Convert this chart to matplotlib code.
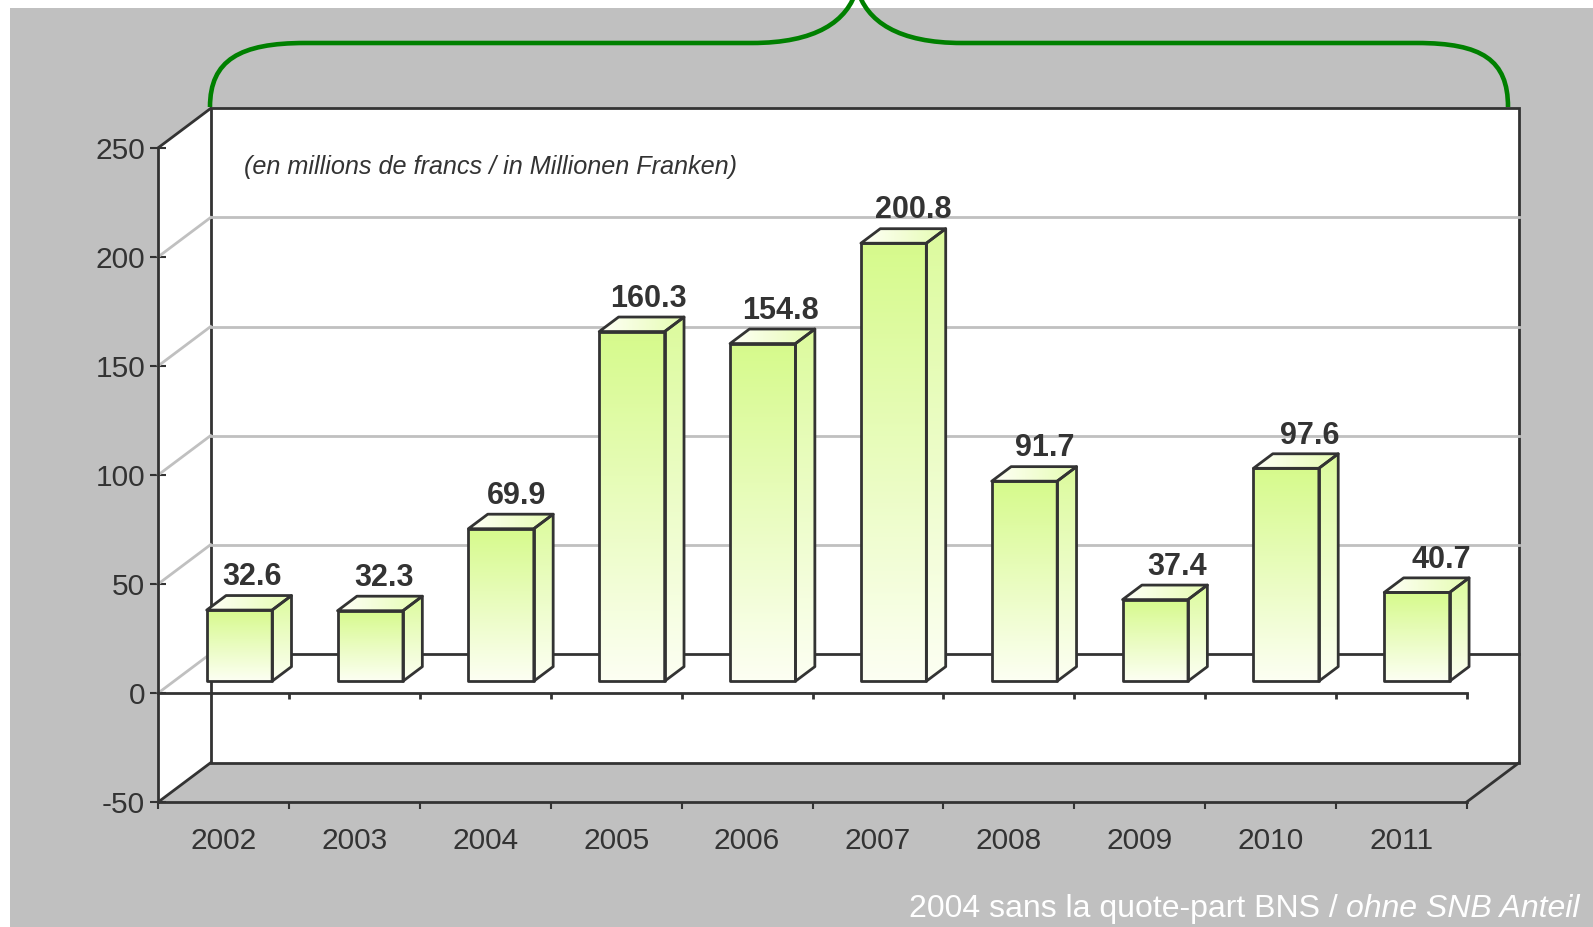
import numpy as np
import matplotlib
matplotlib.use('Agg')
import matplotlib.pyplot as plt
from matplotlib.patches import Polygon, Rectangle, PathPatch
from matplotlib.path import Path
from matplotlib.transforms import Affine2D

plt.rcParams['font.family'] = ['Liberation Sans', 'DejaVu Sans']

years = ['2002', '2003', '2004', '2005', '2006', '2007', '2008', '2009', '2010', '2011']
values = [32.6, 32.3, 69.9, 160.3, 154.8, 200.8, 91.7, 37.4, 97.6, 40.7]
yticks = [-50, 0, 50, 100, 150, 200, 250]
subtitle = '(en millions de francs / in Millionen Franken)'
note_plain = '2004 sans la quote-part BNS / '
note_italic = 'ohne SNB Anteil'

W, H = 1593, 927
DARK = '#333333'
GRID = '#c0c0c0'
BG = '#c0c0c0'

# oblique depth of the 3D box, in data units
DX, DY = 0.40, 18.0
D0, D1 = 0.30, 0.67   # bar front / back depth
BW = 0.5              # bar width

fig = plt.figure(figsize=(W / 100, H / 100), dpi=100)
fig.patch.set_facecolor('white')
px = Affine2D().scale(1 / W, -1 / H).translate(0, 1) + fig.transFigure

fig.patches.append(Rectangle((10, 8), W, H, transform=px, facecolor=BG, edgecolor='none', zorder=-5))

ax = fig.add_axes([158.3 / W, 1 - 802 / H, 1308.4 / W, 654.3 / H])
ax.set_xlim(0, 10)
ax.set_ylim(-50, 250)
ax.patch.set_visible(False)
for s in ['top', 'right']:
    ax.spines[s].set_visible(False)
for s in ['left', 'bottom']:
    ax.spines[s].set_color(DARK)
    ax.spines[s].set_linewidth(2)


def p(x, y, d):
    return (x + d * DX, y + d * DY)


n = len(values)
ymin, ymax = yticks[0], yticks[-1]

# walls
ax.add_patch(Polygon([p(0, ymin, 0), p(0, ymin, 1), p(0, ymax, 1), p(0, ymax, 0)],
                     closed=True, facecolor='white', edgecolor='none', zorder=1, clip_on=False))
ax.add_patch(Polygon([p(0, ymin, 1), p(n, ymin, 1), p(n, ymax, 1), p(0, ymax, 1)],
                     closed=True, facecolor='white', edgecolor=DARK, lw=2, zorder=1.5, clip_on=False))

# gridlines on side and back walls
for v in yticks[1:-1]:
    a, b = p(0, v, 0), p(0, v, 1)
    ax.plot([a[0], b[0]], [a[1], b[1]], color=GRID, lw=2, zorder=2, clip_on=False)
    if v != 0:
        c = p(n, v, 1)
        ax.plot([b[0], c[0]], [b[1], c[1]], color=GRID, lw=2, zorder=2, clip_on=False)
# box edges
for (x0, y0, d0), (x1, y1, d1) in [((0, ymax, 0), (0, ymax, 1)),
                                   ((0, ymin, 0), (0, ymin, 1)),
                                   ((n, ymin, 0), (n, ymin, 1)),
                                   ((0, 0, 1), (n, 0, 1))]:
    a, b = p(x0, y0, d0), p(x1, y1, d1)
    ax.plot([a[0], b[0]], [a[1], b[1]], color=DARK, lw=2, zorder=3, clip_on=False,
            solid_capstyle='projecting')

green = np.array([0.84, 0.98, 0.55])
white = np.array([0.99, 1.0, 0.95])


def grad_img(c_top, c_bot, vertical=True, nsteps=64):
    t = np.linspace(0, 1, nsteps)[:, None]
    arr = c_bot[None, :] * (1 - t) + c_top[None, :] * t
    if vertical:
        return arr[:, None, :]
    return arr[None, :, :]


def face(verts, img, z):
    poly = Polygon(verts, closed=True, facecolor='none', edgecolor=DARK, lw=2,
                   joinstyle='round', zorder=z + 0.1, clip_on=False)
    ax.add_patch(poly)
    xs = [v[0] for v in verts]
    ys = [v[1] for v in verts]
    im = ax.imshow(img, extent=[min(xs), max(xs), min(ys), max(ys)], origin='lower',
                   aspect='auto', interpolation='bilinear', zorder=z)
    im.set_clip_path(poly)
    im.set_clip_box(None)


for i, v in enumerate(values):
    xl, xr = i + 0.5 - BW / 2, i + 0.5 + BW / 2
    z = 4 + i * 0.01
    front = [p(xl, 0, D0), p(xr, 0, D0), p(xr, v, D0), p(xl, v, D0)]
    side = [p(xr, 0, D0), p(xr, 0, D1), p(xr, v, D1), p(xr, v, D0)]
    top = [p(xl, v, D0), p(xr, v, D0), p(xr, v, D1), p(xl, v, D1)]
    face(front, grad_img(green, white), z)
    face(side, grad_img(green * 0.85 + 0.15, white), z)
    face(top, grad_img(np.array([0.90, 0.99, 0.70]), np.array([1.0, 1.0, 0.97]), vertical=False), z)
    # labels drift right a little across the chart (Excel perspective)
    lx = i + 0.5 + DX * (D0 + 0.24 + 0.23 * i / (n - 1))
    ly = v + D1 * DY
    ax.text(lx, ly + 1.5, f'{v:.1f}', ha='center', va='bottom', fontsize=22,
            fontweight='bold', color=DARK, zorder=6)

# front zero line with ticks
ax.plot([0, n], [0, 0], color=DARK, lw=2, zorder=5, clip_on=False)
ax.vlines(np.arange(1, n + 1), -3, 0, color=DARK, lw=2, zorder=5, clip_on=False)

# axes ticks
ax.set_yticks(yticks)
ax.set_yticklabels([str(t) for t in yticks])
ax.set_xticks(np.arange(n + 1))
ax.set_xticklabels([])
ax.set_xticks(np.arange(n) + 0.5, labels=years, minor=True)
ax.tick_params(axis='y', direction='inout', length=11, width=1.5, color=DARK,
               labelcolor=DARK, labelsize=21.5, pad=4)
ax.tick_params(axis='x', which='major', direction='out', length=5, width=1.5, color=DARK)
ax.tick_params(axis='x', which='minor', length=0, labelcolor=DARK, labelsize=21.5, pad=18)

# subtitle
fig.text(244, 167, subtitle, transform=px, ha='left', va='center', fontsize=18.2,
         style='italic', color=DARK)

# brace
verts = [(210, 107), (210, 60), (240, 43), (305, 43),
         (752, 43),
         (815, 43), (848, 22), (857, -12),
         (866, 22), (899, 43), (962, 43),
         (1417, 43),
         (1482, 43), (1508, 60), (1508, 107)]
codes = [Path.MOVETO, Path.CURVE4, Path.CURVE4, Path.CURVE4,
         Path.LINETO,
         Path.CURVE4, Path.CURVE4, Path.CURVE4,
         Path.CURVE4, Path.CURVE4, Path.CURVE4,
         Path.LINETO,
         Path.CURVE4, Path.CURVE4, Path.CURVE4]
fig.patches.append(PathPatch(Path(verts, codes), transform=px, facecolor='none',
                             edgecolor='#008000', lw=3.3, zorder=10))

# footnote
t_it = fig.text(1580, 909, note_italic, transform=px, ha='right', va='center',
                fontsize=23, style='italic', color='white')
ax.annotate(note_plain, xy=(0, 0.5), xycoords=t_it, ha='right', va='center',
            fontsize=23, color='white', annotation_clip=False)

fig.savefig('out.png', dpi=100)
